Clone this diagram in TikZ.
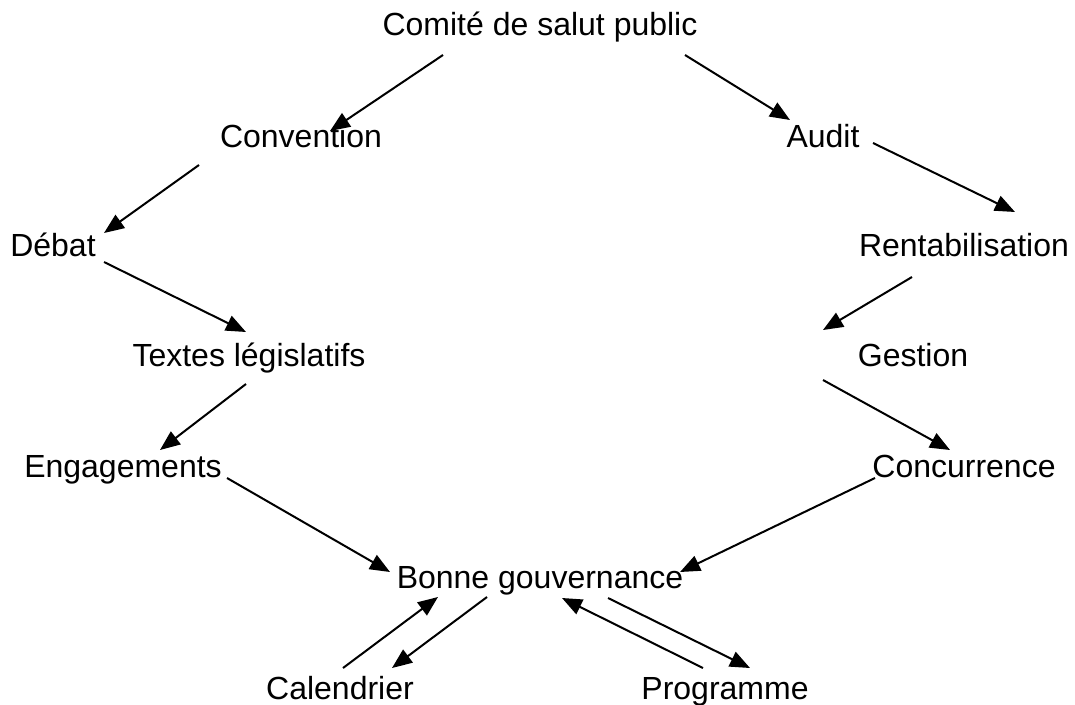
\documentclass[tikz,border=0pt]{standalone}
\usepackage{fontspec}
\setmainfont{Liberation Sans}
\usetikzlibrary{arrows.meta}
\begin{document}
\begin{tikzpicture}[x=1pt,y=-1pt,
    every node/.style={inner sep=0pt,anchor=base,font=\fontsize{32}{38}\selectfont},
    arr/.style={-{Triangle[length=20pt,width=16pt]},line width=2pt}]
      \useasboundingbox (0,0) rectangle (1075,704);
      \path
        (540,35) node (comite){Comité de salut public}
        (301,147) node (convention){Convention}
        (823,147) node (audit){Audit}
        (53,256) node (debat){Débat}
        (964,256) node (rentab){Rentabilisation}
        (249,366) node (textes){Textes législatifs}
        (913,366) node (gestion){Gestion}
        (123,477) node (engag){Engagements}
        (964,477) node (concur){Concurrence}
        (540,588) node (bonne){Bonne gouvernance}
        (340,699) node (calend){Calendrier}
        (725,699) node (progr){Programme};
      \begin{scope}[arr]
        \draw ([shift={(-97,20)}]comite.base) to ([shift={(29,-16)}]convention.base);
        \draw ([shift={(145,20)}]comite.base) to ([shift={(-33,-27)}]audit.base);
        \draw ([shift={(-102,18)}]convention.base) to ([shift={(51,-23)}]debat.base);
        \draw ([shift={(50,-4)}]audit.base) to ([shift={(51,-44)}]rentab.base);
        \draw ([shift={(51,6)}]debat.base) to ([shift={(-3,-34)}]textes.base);
        \draw ([shift={(-52,21)}]rentab.base) to ([shift={(-90,-36)}]gestion.base);
        \draw ([shift={(-3,18)}]textes.base) to ([shift={(37,-27)}]engag.base);
        \draw ([shift={(-90,14)}]gestion.base) to ([shift={(-14,-27)}]concur.base);
        \draw ([shift={(104,1)}]engag.base) to ([shift={(-150,-16)}]bonne.base);
        \draw ([shift={(-89,1)}]concur.base) to ([shift={(140,-16)}]bonne.base);
        \draw ([shift={(3,-31)}]calend.base) to ([shift={(-102,9)}]bonne.base);
        \draw ([shift={(-53,9)}]bonne.base) to ([shift={(52,-31)}]calend.base);
        \draw ([shift={(-22,-31)}]progr.base) to ([shift={(22,10)}]bonne.base);
        \draw ([shift={(68,10)}]bonne.base) to ([shift={(25,-31)}]progr.base);
      \end{scope}
    \end{tikzpicture}
\end{document}
